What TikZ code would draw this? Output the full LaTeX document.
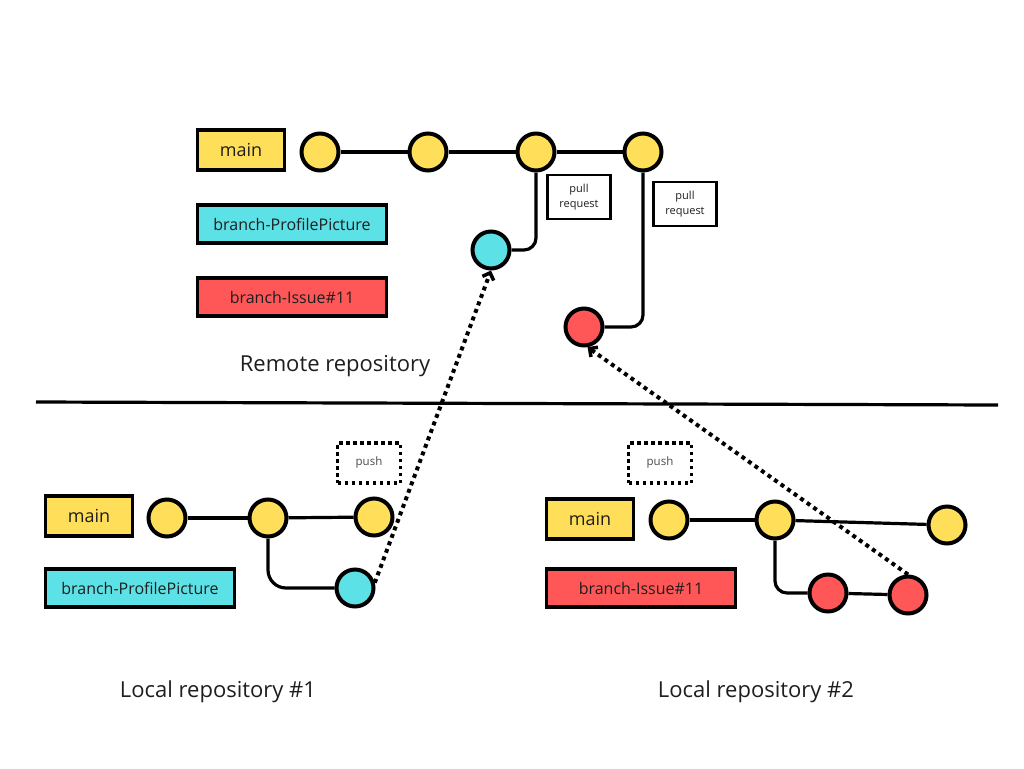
\documentclass[tikz,border=0pt]{standalone}
\usepackage{fontspec}
\setmainfont{Open Sans}
\usetikzlibrary{arrows.meta}
\definecolor{cyel}{HTML}{FFDE59}
\definecolor{ccya}{HTML}{5CE1E6}
\definecolor{cred}{HTML}{FF5757}
\definecolor{ctxt}{HTML}{1E1E1E}
\tikzset{
  commit/.style={circle,draw=black,line width=4pt,minimum size=37pt,inner sep=0pt},
  ycommit/.style={commit,fill=cyel},
  ccommit/.style={commit,fill=ccya},
  rcommit/.style={commit,fill=cred},
  label box/.style={draw=black,line width=3.5pt,inner sep=0pt,text=ctxt,font=\fontsize{16}{18}\selectfont},
  mainbox/.style={label box,fill=cyel,minimum width=87pt,minimum height=40pt,font=\fontsize{18}{20}\selectfont},
  widebox/.style={label box,minimum width=189pt,minimum height=38pt},
  prbox/.style={draw=black,line width=2.5pt,fill=white,minimum width=63pt,minimum height=44pt,inner sep=0pt,align=center,text=ctxt,font=\fontsize{11}{15}\selectfont},
  pushbox/.style={draw=black,line width=3.5pt,dash pattern=on 3.5pt off 3.5pt,minimum width=63pt,minimum height=40pt,inner sep=0pt,text=ctxt!80,font=\fontsize{11.5}{13}\selectfont},
  edge/.style={draw=black,line width=3.2pt},
  branchline/.style={edge,rounded corners=12pt},
  pusharrow/.style={draw=black,line width=4pt,dash pattern=on 4pt off 4pt,-{Straight Barb[length=6pt,width=12pt,line width=3.5pt]}},
  caption/.style={text=ctxt,font=\fontsize{22}{26}\selectfont},
}
\begin{document}
\begin{tikzpicture}[x=1pt,y=-1pt]
\useasboundingbox[fill=white] (0,0) rectangle (1024,768);
% ---------- remote ----------
\node[mainbox] (rmain) at (241,150) {main};
\node[widebox,fill=ccya] (rpp) at (292,224) {branch-ProfilePicture};
\node[widebox,fill=cred] (riss) at (292,297) {branch-Issue\#11};
\node[ycommit] (t1) at (320,152) {};
\node[ycommit] (t2) at (428,152) {};
\node[ycommit] (t3) at (536,152) {};
\node[ycommit] (t4) at (643,152) {};
\node[ccommit] (tc) at (491,250) {};
\node[rcommit] (tr) at (584,327) {};
\draw[edge] (t1) -- (t2);
\draw[edge] (t2) -- (t3);
\draw[edge] (t3) -- (t4);
\draw[branchline] (t3.south) |- (tc.east);
\draw[branchline] (t4.south) |- (tr.east);
\node[prbox] (pr1) at (579,197) {pull\\request};
\node[prbox] (pr2) at (685,204) {pull\\request};
\node[caption] (remote) at (335,366) {Remote repository};
% ---------- divider ----------
\coordinate (dl) at (36,402);
\coordinate (dr) at (998,405);
\draw[edge] (dl) -- (dr);
% ---------- local #1 ----------
\node[mainbox] (amain) at (89,516) {main};
\node[widebox,fill=ccya] (app) at (140,588) {branch-ProfilePicture};
\node[ycommit] (a1) at (167,518) {};
\node[ycommit] (a2) at (268,518) {};
\node[ycommit] (a3) at (374,517) {};
\node[ccommit] (ac) at (355,588) {};
\draw[edge] (a1) -- (a2);
\draw[edge] (a2) -- (a3);
\draw[branchline,rounded corners=18pt] (a2.south) |- (ac.west);
\node[pushbox] (push1) at (369,463) {push};
\node[caption] (loc1) at (218,692) {Local repository \#1};
% ---------- local #2 ----------
\node[mainbox] (bmain) at (590,519) {main};
\node[widebox,fill=cred] (biss) at (641,588) {branch-Issue\#11};
\node[ycommit] (b1) at (669,520) {};
\node[ycommit] (b2) at (775,520) {};
\node[ycommit] (b3) at (947,525) {};
\node[rcommit] (br1) at (828,593) {};
\node[rcommit] (br2) at (908,595) {};
\draw[edge] (b1) -- (b2);
\draw[edge] (b2) -- (b3);
\draw[branchline] (b2.south) |- (br1.west);
\draw[edge] (br1) -- (br2);
\node[pushbox] (push2) at (660,463) {push};
\node[caption] (loc2) at (756,692) {Local repository \#2};
% ---------- push arrows ----------
\draw[pusharrow] (ac.15) -- (tc.south);
\draw[pusharrow] (br2.north) -- (tr.-80);
\end{tikzpicture}
\end{document}
